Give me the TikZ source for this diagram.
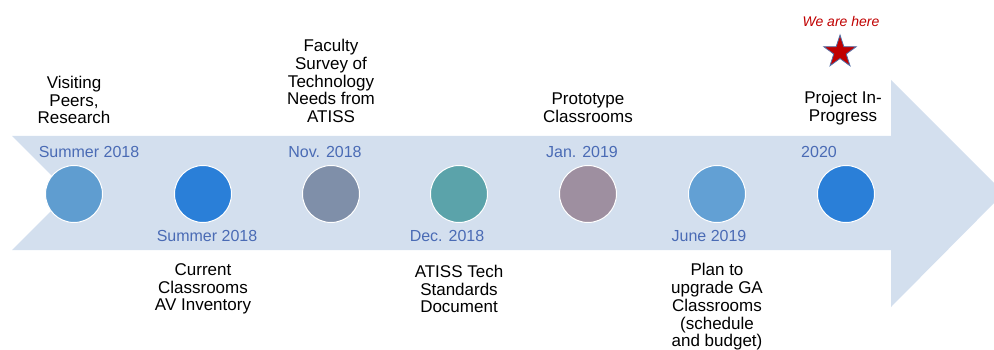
\documentclass[tikz,border=0pt]{standalone}
\usepackage{fontspec}
\setmainfont{Liberation Sans}
\usetikzlibrary{shapes.geometric}
\definecolor{band}{HTML}{D3DFEE}
\definecolor{dateblue}{HTML}{4A6BB5}
\definecolor{cA}{HTML}{5F9DD0}
\definecolor{cB}{HTML}{2A7FD8}
\definecolor{cC}{HTML}{7F8FA9}
\definecolor{cD}{HTML}{5BA3AA}
\definecolor{cE}{HTML}{9E8FA0}
\definecolor{cF}{HTML}{62A0D4}
\definecolor{starred}{HTML}{C00000}
\definecolor{starline}{HTML}{4F6FA8}
\begin{document}
\begin{tikzpicture}[x=1pt,y=-1pt,
  dot/.style={circle,draw=white,line width=1pt,minimum size=57pt,inner sep=0pt},
  datelbl/.style={text=dateblue,font=\fontsize{16}{17}\selectfont,inner sep=0pt},
  desc/.style={align=center,font=\fontsize{17}{17.8}\selectfont,inner sep=0pt}]
\useasboundingbox (0,0) rectangle (994,350);
\fill[band] (12,136) -- (891,136) -- (891,80) -- (1004,193) -- (891,307) -- (891,250) -- (12,250) -- (69,193) -- cycle;
\node[dot,fill=cA] (d1) at (74,194) {};
\node[dot,fill=cB] (d2) at (203,194) {};
\node[dot,fill=cC] (d3) at (331,194) {};
\node[dot,fill=cD] (d4) at (459,194) {};
\node[dot,fill=cE] (d5) at (588,194) {};
\node[dot,fill=cF] (d6) at (717,194) {};
\node[dot,fill=cB] (d7) at (846,194) {};
\node[datelbl] (t1) at (89,152) {Summer 2018};
\node[datelbl] (t3) at (325,152) {Nov. 2018};
\node[datelbl] (t5) at (582,152) {Jan. 2019};
\node[datelbl] (t7) at (819,152) {2020};
\node[datelbl] (t2) at (207,236) {Summer 2018};
\node[datelbl] (t4) at (447,236) {Dec. 2018};
\node[datelbl] (t6) at (709,236) {June 2019};
\node[desc] (x1) at (74,100) {Visiting\\Peers,\\Research};
\node[desc] (x3) at (331,81) {Faculty\\Survey of\\Technology\\Needs from\\ATISS};
\node[desc] (x5) at (588,108) {Prototype\\Classrooms};
\node[desc] (x7) at (843,108) {Project In-\\Progress};
\node[desc] (x2) at (203,289) {Current\\Classrooms\\AV Inventory};
\node[desc] (x4) at (459,289) {ATISS Tech\\Standards\\Document};
\node[desc] (x6) at (717,307) {Plan to\\upgrade GA\\Classrooms\\(schedule\\and budget)};
\node[text=starred,font=\fontsize{14}{15}\selectfont\itshape,inner sep=0pt] (here) at (841,21) {We are here};
\node[star,star points=5,star point ratio=2.6,minimum size=34pt,inner sep=0pt,fill=starred,draw=starline,line width=0.8pt] (st) at (840,52) {};
\end{tikzpicture}
\end{document}
